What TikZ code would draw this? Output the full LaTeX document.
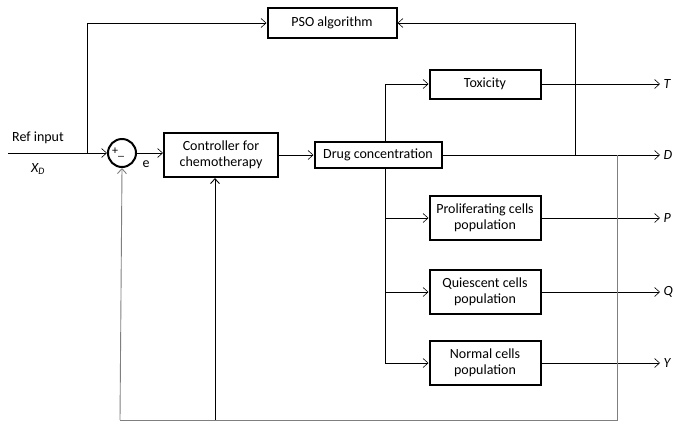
\documentclass[tikz,border=0pt]{standalone}
\usepackage{fontspec}
\setmainfont{Carlito}
\usetikzlibrary{arrows.meta,positioning,calc}
\definecolor{fbgray}{HTML}{7F7F7F}

\begin{document}
\begin{tikzpicture}[x=1pt,y=-1pt,
  blk/.style={draw,fill=white,line width=2pt,minimum width=111pt,align=center,
    font=\fontsize{14}{16}\selectfont},
  arr/.style={-{Straight Barb[length=5pt,width=9pt]},line width=0.6pt},
  fbk/.style={draw=fbgray,line width=0.9pt},
  lbl/.style={font=\fontsize{14}{16}\selectfont}]
  \useasboundingbox (0,0) rectangle (674,426);

  % blocks
  \node[blk,minimum width=129pt,minimum height=30pt] (pso) at (332,23) {PSO algorithm};
  \node[circle,draw,line width=2pt,minimum size=28pt,inner sep=0pt] (sum) at (122,153) {};
  \node[blk,minimum width=114pt,minimum height=44pt] (ctrl) at (221,155) {Controller for\\chemotherapy};
  \node[blk,minimum width=127pt,minimum height=26pt] (drug) at (378,155) {Drug concentration};
  \node[blk,minimum height=29pt] (tox) at (485,84) {Toxicity};
  \node[blk,minimum height=44pt] (prol) at (485,218) {Proliferating cells\\population};
  \node[blk,minimum height=44pt] (quie) at (485,292) {Quiescent cells\\population};
  \node[blk,minimum height=44pt] (norm) at (485,363) {Normal cells\\population};

  % junctions
  \coordinate (in) at (8,153);
  \coordinate (tap) at (87,153);
  \coordinate (br) at (385,155);
  \coordinate (pt) at (575,155);
  \coordinate (fb) at (617,155);
  \coordinate (cb) at (215,420);
  \coordinate (bl) at (120,420);

  % input and summing point
  \node[lbl,anchor=south] (ref) at (38,147) {Ref input};
  \node[lbl,anchor=north] (xd) at (38,160) {\itshape X\textsubscript{D}};
  \node[font=\fontsize{12}{12}\selectfont,inner sep=0pt] (plus) at (115,151) {+};
  \node[font=\fontsize{12}{12}\selectfont,inner sep=0pt] (minus) at (121,156) {\_};
  \node[lbl] (err) at (146,164) {e};
  \draw[arr] (in) -- (sum.west);
  \draw[arr] (sum.east) -- (sum.east -| ctrl.west);
  \draw[arr] (ctrl.east |- drug.west) -- (drug.west);

  % PSO loop
  \draw[arr] (tap) |- (pso.west);
  \draw[arr] (pt) |- (pso.east);

  % branches to the cell models
  \draw[line width=0.6pt] (drug.north -| br) -- (tox.west -| br);
  \draw[line width=0.6pt] (drug.south -| br) -- (norm.west -| br);
  \foreach \b in {tox,prol,quie,norm}
    \draw[arr] (\b.west -| br) -- (\b.west);

  % outputs
  \draw[arr] (drug.east) -- (660,155) node[lbl,anchor=west] (od) {\itshape D};
  \draw[arr] (tox.east) -- (660,84) node[lbl,anchor=west] (ot) {\itshape T};
  \draw[arr] (prol.east) -- (660,218) node[lbl,anchor=west] (op) {\itshape P};
  \draw[arr] (quie.east) -- (660,292) node[lbl,anchor=west] (oq) {\itshape Q};
  \draw[arr] (norm.east) -- (660,363) node[lbl,anchor=west] (oy) {\itshape Y};

  % feedback
  \draw[fbk] (fb) |- (bl);
  \draw[arr,draw=fbgray,line width=0.9pt] (bl) -- (sum.south);
  \draw[arr,line width=0.9pt] (cb) -- (cb |- ctrl.south);
\end{tikzpicture}
\end{document}
